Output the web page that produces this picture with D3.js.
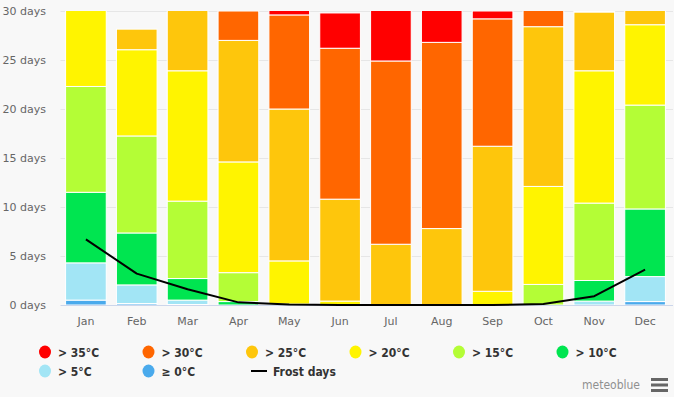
<!DOCTYPE html>
<html>
<head>
<meta charset="utf-8">
<script src="https://cdn.jsdelivr.net/npm/d3@7"></script>
<style>
  html, body { margin: 0; padding: 0; background: #f8f8f8; }
  svg { display: block; }
</style>
</head>
<body>
<div id="chart"></div>
<script>
// days per month with max temperature in each class
var months = ['Jan', 'Feb', 'Mar', 'Apr', 'May', 'Jun', 'Jul', 'Aug', 'Sep', 'Oct', 'Nov', 'Dec'];
var ge0  = [0.5, 0.15, 0.05, 0, 0, 0, 0, 0, 0, 0, 0, 0.35];
var gt5  = [3.8, 1.9, 0.45, 0, 0, 0, 0, 0, 0, 0, 0.4, 2.55];
var gt10 = [7.2, 5.3, 2.2, 0.35, 0, 0, 0, 0, 0, 0, 2.1, 6.9];
var gt15 = [10.8, 9.9, 7.9, 2.95, 0.1, 0, 0, 0, 0, 2.1, 7.9, 10.6];
var gt20 = [8.7, 8.8, 13.3, 11.3, 4.4, 0.4, 0, 0, 1.4, 10.0, 13.5, 8.2];
var gt25 = [0, 2.1, 7.1, 12.4, 15.5, 10.4, 6.2, 7.8, 14.8, 16.3, 6.0, 2.4];
var gt30 = [0, 0, 0, 3.0, 9.6, 15.4, 18.7, 19.0, 13.0, 2.6, 0.1, 0];
var gt35 = [0, 0, 0, 0, 1.4, 3.6, 6.1, 4.2, 0.8, 0, 0, 0];
var frostDays = [6.7, 3.2, 1.6, 0.27, 0.05, 0, 0, 0, 0, 0.1, 0.9, 3.6];
var yTicks = [0, 5, 10, 15, 20, 25, 30];

// stacking order bottom -> top
var series = [
    { name: '≥ 0°C', color: '#4aaaec', values: ge0 },
    { name: '> 5°C', color: '#a2e5f5', values: gt5 },
    { name: '> 10°C', color: '#00e550', values: gt10 },
    { name: '> 15°C', color: '#b4fd36', values: gt15 },
    { name: '> 20°C', color: '#fff400', values: gt20 },
    { name: '> 25°C', color: '#fec60c', values: gt25 },
    { name: '> 30°C', color: '#ff6600', values: gt30 },
    { name: '> 35°C', color: '#ff0000', values: gt35 }
];
var legendOrder = ['> 35°C', '> 30°C', '> 25°C', '> 20°C', '> 15°C', '> 10°C', '> 5°C', '≥ 0°C'];

var width = 674, height = 397;
var plot = { left: 60.5, right: 670.5, top: 11, bottom: 305 };

var svg = d3.select('#chart').append('svg')
    .attr('width', width)
    .attr('height', height);

svg.append('rect').attr('width', width).attr('height', height).attr('fill', '#f8f8f8');

var x = d3.scaleBand()
    .domain(months)
    .range([plot.left, plot.right])
    .paddingInner(0.2)
    .paddingOuter(0.1);

var y = d3.scaleLinear()
    .domain([0, 30])
    .range([plot.bottom, plot.top]);

// grid
svg.append('g')
    .selectAll('line')
    .data(yTicks)
    .enter().append('line')
    .attr('x1', plot.left).attr('x2', 673)
    .attr('y1', function (d) { return Math.round(y(d)) + 0.5; })
    .attr('y2', function (d) { return Math.round(y(d)) + 0.5; })
    .attr('stroke', function (d) { return d === 0 ? '#ccd6eb' : '#e6e6e6'; })
    .attr('stroke-width', 1);

// y labels
svg.append('g')
    .selectAll('text')
    .data(yTicks)
    .enter().append('text')
    .attr('x', 46)
    .attr('y', function (d) { return y(d) + 4; })
    .attr('text-anchor', 'end')
    .attr('font-family', 'DejaVu Sans, Verdana, sans-serif')
    .attr('font-size', '11px')
    .attr('fill', '#666')
    .text(function (d) { return d + ' days'; });

// x labels
svg.append('g')
    .selectAll('text')
    .data(months)
    .enter().append('text')
    .attr('x', function (d) { return x(d) + x.bandwidth() / 2; })
    .attr('y', 325)
    .attr('text-anchor', 'middle')
    .attr('font-family', 'DejaVu Sans, Verdana, sans-serif')
    .attr('font-size', '11px')
    .attr('fill', '#666')
    .text(function (d) { return d; });

svg.append('clipPath').attr('id', 'plot-clip')
    .append('rect')
    .attr('x', plot.left).attr('y', plot.top)
    .attr('width', plot.right - plot.left).attr('height', plot.bottom - plot.top);

var rows = months.map(function (m, i) {
    var r = { month: m };
    series.forEach(function (s) { r[s.name] = s.values[i]; });
    return r;
});

var stack = d3.stack().keys(series.map(function (s) { return s.name; }));
var stacked = stack(rows);

var bars = svg.append('g').attr('clip-path', 'url(#plot-clip)');

bars.selectAll('g')
    .data(stacked)
    .enter().append('g')
    .attr('fill', function (d, i) { return series[i].color; })
    .selectAll('rect')
    .data(function (d) { return d.filter(function (p) { return p[1] - p[0] > 0; }); })
    .enter().append('rect')
    .attr('x', function (d) { return x(d.data.month); })
    .attr('width', x.bandwidth())
    .attr('y', function (d) { return y(d[1]); })
    .attr('height', function (d) { return y(d[0]) - y(d[1]); })
    .attr('stroke', '#fff')
    .attr('stroke-width', 1);

// frost line
var line = d3.line()
    .x(function (d, i) { return x(months[i]) + x.bandwidth() / 2; })
    .y(function (d) { return y(d); });

svg.append('path')
    .datum(frostDays)
    .attr('d', line)
    .attr('fill', 'none')
    .attr('stroke', '#000')
    .attr('stroke-width', 2)
    .attr('stroke-linejoin', 'round');

// legend
var legend = svg.append('g')
    .attr('font-family', 'DejaVu Sans Condensed, DejaVu Sans, sans-serif')
    .attr('font-size', '12px')
    .attr('font-weight', 'bold')
    .attr('fill', '#333');

var items = legendOrder.map(function (n) {
    var s = series.filter(function (q) { return q.name === n; })[0];
    return { name: n, color: s.color, type: 'dot' };
});
items.push({ name: 'Frost days', color: '#000', type: 'line' });

var lg = legend.selectAll('g')
    .data(items)
    .enter().append('g')
    .attr('transform', function (d, i) {
        return 'translate(' + (45 + (i % 6) * 103.5) + ',' + (352 + Math.floor(i / 6) * 19) + ')';
    });

lg.filter(function (d) { return d.type === 'dot'; })
    .append('ellipse')
    .attr('rx', 6).attr('ry', 6.5)
    .attr('fill', function (d) { return d.color; });

lg.filter(function (d) { return d.type === 'line'; })
    .append('line')
    .attr('x1', -1).attr('x2', 15)
    .attr('stroke', '#000')
    .attr('stroke-width', 2);

lg.append('text')
    .attr('x', function (d) { return d.type === 'line' ? 21 : 13; })
    .attr('y', 4.5)
    .text(function (d) { return d.name; });

// credits
svg.append('text')
    .attr('x', 640)
    .attr('y', 389)
    .attr('text-anchor', 'end')
    .attr('font-family', 'DejaVu Sans Condensed, DejaVu Sans, sans-serif')
    .attr('font-size', '12px')
    .attr('fill', '#909090')
    .text('meteoblue');

svg.append('g')
    .selectAll('rect')
    .data([0, 1, 2])
    .enter().append('rect')
    .attr('x', 651)
    .attr('y', function (d) { return 378 + d * 5.5; })
    .attr('width', 17)
    .attr('height', 3)
    .attr('fill', '#666');
</script>
</body>
</html>
